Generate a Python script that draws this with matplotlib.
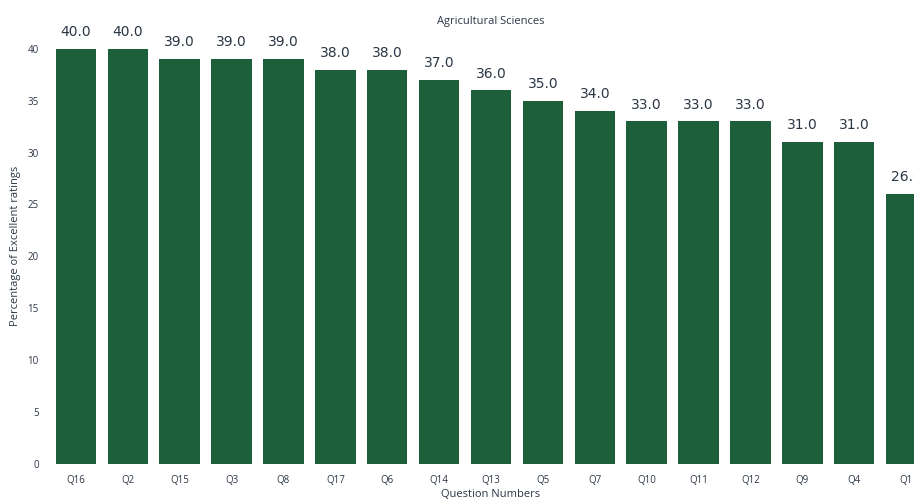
import matplotlib
matplotlib.use('Agg')
import matplotlib.pyplot as plt

questions = ['Q16', 'Q2', 'Q15', 'Q3', 'Q8', 'Q17', 'Q6', 'Q14', 'Q13',
             'Q5', 'Q7', 'Q10', 'Q11', 'Q12', 'Q9', 'Q4', 'Q1']
excellent_pct = [40.0, 40.0, 39.0, 39.0, 39.0, 38.0, 38.0, 37.0, 36.0,
                 35.0, 34.0, 33.0, 33.0, 33.0, 31.0, 31.0, 26.0]

bar_color = '#1d5e3b'
text_color = '#2b3645'

fig = plt.figure(figsize=(9.14, 5.0), dpi=100)
# axes runs past the right edge, like the cropped original
ax = fig.add_axes([50 / 914, 36 / 500, 882 / 914, 436 / 500])

x = range(len(questions))
bars = ax.bar(x, excellent_pct, width=0.78, color=bar_color)
ax.bar_label(bars, labels=[f'{v:.1f}' for v in excellent_pct], padding=7,
             fontsize=10, color=text_color, family='DejaVu Sans')

ax.set_xlim(-0.5, len(questions) - 0.5)
ax.set_ylim(0, 42)
ax.set_xticks(list(x))
ax.set_xticklabels(questions)
ax.set_yticks(range(0, 41, 5))
ax.tick_params(length=0, labelsize=7, colors=text_color, pad=8)
for lbl in ax.get_xticklabels() + ax.get_yticklabels():
    lbl.set_family('Open Sans')

for s in ax.spines.values():
    s.set_visible(False)

ax.set_title('Agricultural Sciences', fontsize=8, color=text_color,
             family='Open Sans', pad=3)
ax.set_xlabel('Question Numbers', fontsize=8, color=text_color,
              family='Open Sans', labelpad=2)
ax.set_ylabel('Percentage of Excellent ratings', fontsize=8, color=text_color,
              family='Open Sans', labelpad=5)

fig.savefig('out.png', dpi=100)
